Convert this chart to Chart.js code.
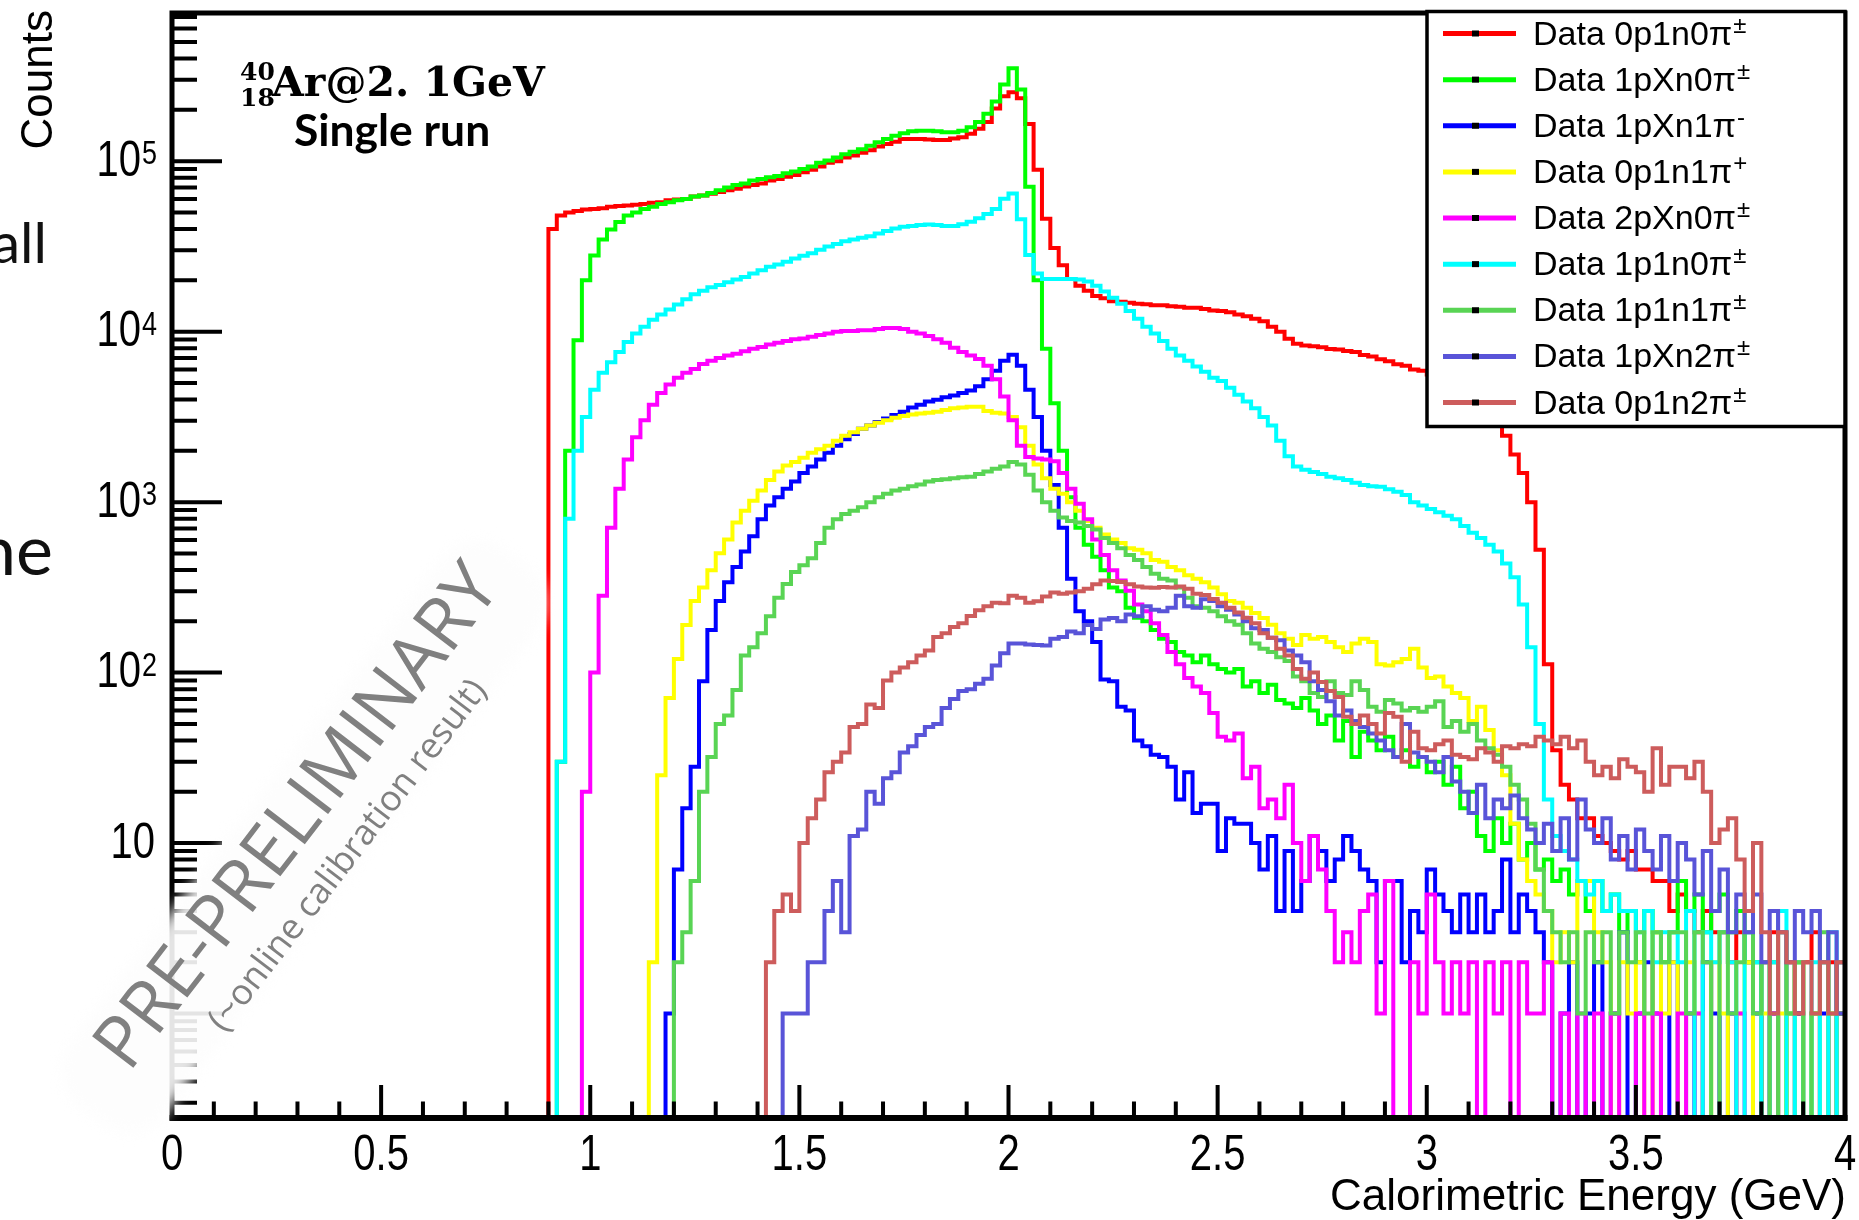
<!DOCTYPE html>
<html>
<head>
<meta charset="utf-8">
<title>Calorimetric Energy</title>
<script src="https://cdn.jsdelivr.net/npm/chart.js@4.4.1/dist/chart.umd.min.js"></script>
<style>
  html, body { margin: 0; padding: 0; background: #ffffff; }
  #wrap { position: relative; width: 1859px; height: 1220px; }
  canvas { display: block; }
</style>
</head>
<body>
<div id="wrap"><canvas id="chart" width="1859" height="1220"></canvas></div>
<script>
// ---- histogram binning and axis ranges ----
const BIN_WIDTH = 0.02;          // GeV per bin
const X_MIN = 0, X_MAX = 4;      // GeV
const Y_MIN = 0.244, Y_MAX = 7.4e5;

// ---- series ----
const seriesLabels = [
  'Data 0p1n0π±', 'Data 1pXn0π±', 'Data 1pXn1π-', 'Data 0p1n1π+', 'Data 2pXn0π±',
  'Data 1p1n0π±', 'Data 1p1n1π±', 'Data 1pXn2π±', 'Data 0p1n2π±'
];
const legendBase = [
  'Data 0p1n0π', 'Data 1pXn0π', 'Data 1pXn1π', 'Data 0p1n1π', 'Data 2pXn0π',
  'Data 1p1n0π', 'Data 1p1n1π', 'Data 1pXn2π', 'Data 0p1n2π'
];
const legendSup = ['±', '±', '-', '+', '±', '±', '±', '±', '±'];
const seriesColors = [
  '#ff0000', '#00ff00', '#0000ff', '#ffff00', '#ff00ff',
  '#00ffff', '#59d454', '#5954d8', '#cd5c5c'
];
// lower edge (GeV) of the first filled bin of each series
const seriesStarts = [0.90, 0.92, 1.18, 1.14, 0.98, 0.92, 1.20, 1.46, 1.42];

// counts per 0.02 GeV bin, ten bins per row
const counts0p1n0pi = [
  40000, 48000, 50000, 51000, 52000, 52500, 53000, 54000, 54500, 55000,
  55500, 56000, 57000, 57500, 59000, 59500, 60000, 62000, 63000, 64500,
  66000, 67500, 69000, 71000, 72500, 74000, 77000, 78500, 81000, 83000,
  86000, 89000, 93000, 98000, 100000, 105000, 108000, 112000, 116000, 122000,
  126000, 130000, 135000, 135000, 135000, 134000, 133000, 133000, 136000, 138000,
  145000, 155000, 170000, 204000, 240000, 254000, 234000, 165000, 89000, 46000,
  31000, 24500, 20400, 18600, 17400, 16200, 15700, 15100, 15000, 14800,
  14600, 14500, 14300, 14300, 14100, 14000, 13800, 13800, 13600, 13300,
  13200, 13000, 12600, 12300, 11900, 11500, 10700, 10000, 9100, 8500,
  8300, 8200, 8100, 7900, 7850, 7700, 7600, 7300, 7150, 6900,
  6700, 6450, 6300, 6000, 5900, 5600, 5500, 5250, 4900, 4570,
  4170, 3800, 3400, 2950, 2450, 1900, 1480, 1000, 525, 112,
  35, 22, 18, 14, 14, 11, 10, 9, 8, 9,
  7, 7, 6, 6, 4, 5, 4, 3, 4, 3,
  3, 2, 3, 2, 0, 2, 3, 0, 2, 1,
  2, 3, 0, 2, 1
];
const counts1pXn0pi = [
  30, 2000, 8900, 20000, 28000, 34700, 39800, 44000, 48000, 50000,
  52500, 54000, 56000, 57500, 59000, 60000, 62000, 63000, 65000, 67500,
  70000, 72500, 74000, 77000, 78500, 80500, 82000, 85000, 87000, 90000,
  93000, 98000, 101000, 105000, 110000, 113500, 117500, 123000, 129000, 135000,
  141000, 146000, 150000, 151000, 151000, 150000, 148000, 148000, 151000, 158000,
  170000, 190000, 224000, 282000, 351000, 263000, 70800, 20000, 7940, 3800,
  2000, 1070, 708, 562, 479, 398, 316, 300, 240, 210,
  200, 178, 158, 151, 132, 126, 115, 126, 112, 105,
  100, 105, 83, 89, 76, 85, 69, 66, 62, 71,
  60, 50, 56, 40, 52, 32, 45, 40, 35, 42,
  32, 35, 28, 32, 26, 30, 22, 28, 16, 20,
  11, 9, 14, 10, 13, 8, 10, 7, 8, 6,
  7, 5, 6, 4, 6, 4, 5, 3, 4, 2,
  4, 3, 2, 3, 6, 4, 5, 3, 4, 5,
  3, 4, 2, 2, 0, 2, 0, 1, 2, 0,
  1, 2, 0, 1
];
const counts1pXn1piMinus = [
  1, 7, 16, 28, 89, 178, 263, 339, 417, 513,
  631, 794, 955, 1070, 1200, 1320, 1480, 1620, 1780, 1950,
  2140, 2340, 2510, 2690, 2820, 2950, 3090, 3240, 3390, 3590,
  3720, 3890, 3980, 4120, 4220, 4370, 4520, 4790, 5250, 5890,
  6760, 7330, 6310, 4570, 3160, 2000, 1260, 708, 355, 229,
  200, 151, 91, 89, 63, 60, 40, 37, 33, 32,
  28, 18, 26, 15, 17, 17, 9, 14, 13, 13,
  10, 7, 11, 4, 9, 4, 6, 11, 9, 6,
  8, 11, 9, 7, 6, 2, 6, 6, 2, 4,
  3, 7, 5, 4, 3, 5, 3, 5, 3, 4,
  8, 3, 5, 4, 3, 2, 0, 1, 2, 0,
  1, 2, 0, 1, 3, 0, 1, 2, 1, 0,
  2, 0, 1, 0, 2, 1, 0, 1, 0, 0,
  1, 0, 1, 0, 0, 1, 0, 0, 1, 0,
  2
];
const counts0p1n1piPlus = [
  2, 25, 71, 120, 190, 263, 316, 398, 501, 603,
  759, 891, 1020, 1170, 1350, 1510, 1640, 1720, 1820, 1950,
  2040, 2140, 2290, 2450, 2570, 2690, 2820, 2920, 3020, 3130,
  3200, 3270, 3310, 3350, 3390, 3470, 3550, 3590, 3630, 3630,
  3430, 3350, 3310, 3160, 2750, 2140, 1660, 1380, 1200, 1120,
  1000, 891, 776, 708, 646, 603, 575, 537, 525, 501,
  457, 447, 417, 398, 372, 355, 339, 316, 288, 263,
  257, 240, 224, 209, 191, 170, 158, 145, 166, 158,
  162, 151, 141, 132, 148, 158, 151, 112, 110, 115,
  120, 138, 107, 93, 95, 83, 76, 71, 52, 63,
  46, 35, 25, 13, 8, 6, 5, 4, 2, 3,
  2, 6, 6, 3, 2, 0, 2, 1, 2, 0,
  3, 1, 2, 0, 2, 1, 0, 2, 1, 0,
  1, 2, 0, 1, 0, 1, 0, 2, 0, 1,
  0, 1, 0
];
const counts2pXn0pi = [
  20, 100, 282, 708, 1200, 1780, 2400, 3020, 3720, 4370,
  4900, 5370, 5750, 6030, 6460, 6760, 7000, 7240, 7410, 7670,
  7940, 8130, 8410, 8610, 8810, 9020, 9120, 9330, 9550, 9770,
  10000, 10100, 10100, 10200, 10200, 10350, 10500, 10500, 10350, 10000,
  9770, 9440, 9020, 8610, 8040, 7590, 7240, 6920, 6310, 5250,
  4170, 3020, 2140, 1840, 1800, 1780, 1740, 1480, 1200, 977,
  794, 603, 490, 398, 347, 302, 251, 229, 195, 166,
  132, 112, 93, 83, 76, 58, 42, 40, 44, 24,
  28, 16, 18, 14, 22, 10, 6, 11, 7, 4,
  2, 3, 2, 4, 5, 1, 6, 0, 0, 2,
  1, 5, 2, 1, 2, 1, 2, 0, 2, 1,
  2, 0, 2, 1, 1, 2, 0, 1, 0, 1,
  0, 1, 0, 1, 0, 0, 1, 0, 1, 0,
  0, 1, 0, 1, 0, 0, 0, 0, 1, 0,
  0, 0, 1
];
const counts1p1n0pi = [
  30, 800, 2000, 3160, 4570, 5750, 6610, 7590, 8710, 9770,
  10700, 11750, 12600, 13500, 14450, 15500, 16600, 17400, 18200, 18800,
  19500, 20200, 20900, 21900, 22900, 24000, 24800, 25700, 26900, 27900,
  28800, 30200, 31600, 32700, 33900, 34700, 35500, 36300, 37600, 38900,
  40300, 41200, 41700, 42200, 42500, 42200, 41700, 41700, 42700, 44200,
  46200, 49000, 52500, 60300, 64600, 45700, 28200, 21900, 20400, 20400,
  20400, 20400, 20200, 19700, 18600, 17200, 15800, 14600, 13200, 11900,
  10700, 9770, 8810, 7940, 7240, 6760, 6240, 5820, 5370, 5130,
  4680, 4270, 3890, 3550, 3160, 2820, 2290, 1860, 1620, 1550,
  1500, 1460, 1410, 1380, 1350, 1300, 1260, 1240, 1230, 1190,
  1150, 1100, 1000, 955, 912, 871, 832, 794, 724, 661,
  617, 562, 513, 437, 363, 251, 141, 50, 18, 11,
  9, 8, 6, 5, 6, 4, 5, 4, 4, 3,
  4, 2, 3, 3, 2, 4, 0, 3, 2, 3,
  2, 0, 3, 2, 0, 2, 4, 0, 2, 0,
  2, 0, 3, 0
];
const counts1p1n1pi = [
  2, 3, 6, 20, 32, 50, 56, 79, 126, 141,
  170, 214, 275, 331, 389, 427, 468, 575, 708, 794,
  851, 891, 933, 1000, 1070, 1120, 1170, 1200, 1240, 1270,
  1320, 1350, 1360, 1380, 1400, 1410, 1460, 1510, 1570, 1620,
  1720, 1660, 1450, 1170, 1000, 891, 813, 776, 759, 724,
  692, 617, 575, 537, 490, 457, 417, 380, 355, 347,
  316, 275, 245, 240, 229, 214, 200, 191, 170, 148,
  138, 132, 123, 117, 95, 89, 76, 72, 89, 76,
  74, 89, 79, 63, 59, 69, 66, 60, 62, 59,
  63, 68, 48, 52, 45, 50, 40, 36, 33, 28,
  22, 18, 13, 7, 4, 3, 2, 3, 1, 3,
  2, 3, 1, 3, 2, 3, 1, 3, 2, 3,
  3, 1, 3, 2, 0, 3, 1, 2, 3, 1,
  2, 0, 3, 1, 2, 0, 1, 3, 1, 2
];
const counts1pXn2pi = [
  1, 1, 1, 2, 2, 4, 6, 3, 11, 12,
  20, 17, 24, 26, 34, 37, 43, 48, 50, 62,
  70, 78, 80, 86, 92, 110, 130, 148, 148, 146,
  145, 144, 158, 162, 174, 170, 190, 180, 205, 209,
  200, 219, 214, 245, 234, 229, 240, 282, 245, 240,
  269, 263, 245, 234, 219, 200, 182, 178, 160, 155,
  135, 126, 115, 89, 79, 68, 56, 60, 52, 48,
  44, 40, 35, 32, 50, 34, 32, 30, 26, 32,
  23, 20, 15, 22, 14, 18, 16, 19, 14, 12,
  10, 13, 9, 14, 8, 18, 12, 10, 14, 8,
  11, 7, 12, 9, 7, 11, 6, 10, 8, 5,
  9, 4, 7, 3, 5, 3, 5, 2, 4, 3,
  2, 4, 3, 4, 2, 3, 1
];
const counts0p1n2pi = [
  2, 4, 5, 4, 10, 14, 18, 26, 30, 34,
  48, 50, 65, 62, 90, 100, 107, 115, 126, 135,
  162, 170, 185, 195, 215, 232, 245, 257, 255, 282,
  275, 257, 262, 280, 295, 290, 295, 300, 310, 330,
  347, 345, 340, 330, 320, 316, 315, 318, 316, 320,
  310, 290, 285, 270, 257, 240, 225, 210, 195, 170,
  160, 138, 126, 105, 92, 100, 88, 78, 72, 55,
  50, 56, 50, 44, 58, 55, 30, 45, 36, 35,
  38, 40, 33, 32, 31, 36, 34, 30, 37, 36,
  38, 37, 42, 40, 38, 42, 36, 40, 30, 25,
  28, 24, 31, 28, 26, 20, 36, 22, 28, 28,
  24, 30, 20, 10, 12, 14, 8, 4, 10, 3,
  1, 3, 2, 1, 2, 1, 2, 1, 2
];
const seriesCounts = [
  counts0p1n0pi, counts1pXn0pi, counts1pXn1piMinus, counts0p1n1piPlus, counts2pXn0pi,
  counts1p1n0pi, counts1p1n1pi, counts1pXn2pi, counts0p1n2pi
];

// ---- axis ticks ----
const xMajorTicks = [0, 0.5, 1, 1.5, 2, 2.5, 3, 3.5, 4];
const xTickLabels = ['0', '0.5', '1', '1.5', '2', '2.5', '3', '3.5', '4'];
const xMinorStep = 0.1;
const yMajorTicks = [1, 10, 100, 1000, 10000, 100000];
const yTickBase = ['', '10', '10', '10', '10', '10'];
const yTickExp  = ['', '', '2', '3', '4', '5'];

// empty bins sit below the frame on the log axis, so the outline drops to the bottom edge
const EMPTY_LEVEL = 0.05;
function histogramPoints(start, counts) {
  const pts = [{ x: start, y: EMPTY_LEVEL }];
  counts.forEach((c, i) => {
    pts.push({ x: +(start + i * BIN_WIDTH).toFixed(3), y: c > 0 ? c : EMPTY_LEVEL });
  });
  pts.push({ x: +(start + counts.length * BIN_WIDTH).toFixed(3), y: EMPTY_LEVEL });
  return pts;
}

const datasets = seriesCounts.map((counts, i) => ({
  label: seriesLabels[i],
  data: histogramPoints(seriesStarts[i], counts),
  borderColor: seriesColors[i],
  backgroundColor: seriesColors[i],
  borderWidth: 4,
  pointRadius: 0,
  pointHoverRadius: 0,
  stepped: 'before',
  tension: 0,
  fill: false,
  clip: 0,
  borderJoinStyle: 'miter',
  order: seriesCounts.length - i   // later series are painted on top
}));

const SANS = '"Liberation Sans", Arial, sans-serif';
const TICK_STRETCH = 1.25;   // tick numbers are drawn taller than wide

function stretchedText(ctx, text, x, y, sy) {
  ctx.save();
  ctx.translate(x, y);
  ctx.scale(1, sy);
  ctx.fillText(text, 0, 0);
  ctx.restore();
}

function drawFrameAndAxes(chart) {
  const ctx = chart.ctx;
  const xs = chart.scales.x, ys = chart.scales.y;
  const a = chart.chartArea;
  ctx.save();
  ctx.strokeStyle = '#000';
  ctx.lineCap = 'butt';

  // x ticks (inward)
  ctx.lineWidth = 4;
  ctx.beginPath();
  const nMinor = Math.round((X_MAX - X_MIN) / xMinorStep);
  for (let i = 0; i <= nMinor; i++) {
    const v = X_MIN + i * xMinorStep;
    const px = xs.getPixelForValue(v);
    const major = xMajorTicks.some(t => Math.abs(t - v) < 1e-6);
    ctx.moveTo(px, a.bottom);
    ctx.lineTo(px, a.bottom - (major ? 33 : 16.5));
  }
  // y ticks (inward)
  for (let d = -1; d <= 5; d++) {
    for (let m = 1; m <= 9; m++) {
      const v = m * Math.pow(10, d);
      if (v < Y_MIN || v > Y_MAX) continue;
      const py = ys.getPixelForValue(v);
      const major = (m === 1);
      ctx.moveTo(a.left, py);
      ctx.lineTo(a.left + (major ? 50 : 25), py);
    }
  }
  ctx.stroke();

  // frame
  ctx.lineWidth = 5;
  ctx.strokeRect(a.left, a.top, a.right - a.left, a.bottom - a.top);
  ctx.lineWidth = 6;
  ctx.beginPath();
  ctx.moveTo(a.left - 2.5, a.bottom);
  ctx.lineTo(a.right + 2.5, a.bottom);
  ctx.stroke();

  // x tick labels
  ctx.fillStyle = '#000';
  ctx.font = '40px ' + SANS;
  ctx.textAlign = 'center';
  ctx.textBaseline = 'top';
  xMajorTicks.forEach((v, i) => {
    stretchedText(ctx, xTickLabels[i], xs.getPixelForValue(v), a.bottom + 13, TICK_STRETCH);
  });

  // y tick labels with exponents
  const rightEdge = a.left - 15;
  yMajorTicks.forEach((v, i) => {
    if (!yTickBase[i]) return;
    const py = ys.getPixelForValue(v);
    let supW = 0;
    if (yTickExp[i]) {
      ctx.font = '27px ' + SANS;
      supW = ctx.measureText(yTickExp[i]).width;
      ctx.textAlign = 'right';
      ctx.textBaseline = 'alphabetic';
      stretchedText(ctx, yTickExp[i], rightEdge, py + 3, TICK_STRETCH);
    }
    ctx.font = '40px ' + SANS;
    ctx.textAlign = 'right';
    ctx.textBaseline = 'middle';
    stretchedText(ctx, yTickBase[i], rightEdge - supW - (supW ? 1 : 2), py + 1, TICK_STRETCH);
  });

  // axis titles
  ctx.font = '44px ' + SANS;
  ctx.textAlign = 'right';
  ctx.textBaseline = 'alphabetic';
  ctx.fillText('Calorimetric Energy (GeV)', a.right + 1, 1210);
  ctx.save();
  ctx.translate(52, 10);
  ctx.rotate(-Math.PI / 2);
  ctx.fillText('Counts', 0, 0);
  ctx.restore();

  ctx.restore();
}

function drawLegend(chart) {
  const ctx = chart.ctx;
  const box = { left: 1427, top: 11.5, right: 1845, bottom: 426.5 };
  ctx.save();
  ctx.fillStyle = '#ffffff';
  ctx.fillRect(box.left, box.top, box.right - box.left, box.bottom - box.top);
  ctx.strokeStyle = '#000';
  ctx.lineWidth = 3.5;
  ctx.strokeRect(box.left, box.top, box.right - box.left, box.bottom - box.top);

  const rowStep = (box.bottom - box.top - 46) / (legendBase.length - 1);
  legendBase.forEach((text, i) => {
    const cy = box.top + 22 + i * rowStep;
    ctx.strokeStyle = seriesColors[i];
    ctx.lineWidth = 5;
    ctx.beginPath();
    ctx.moveTo(1443, cy);
    ctx.lineTo(1516, cy);
    ctx.stroke();
    ctx.fillStyle = '#000';
    ctx.fillRect(1472, cy - 3, 7, 6);

    ctx.font = '34px ' + SANS;
    ctx.textAlign = 'left';
    ctx.textBaseline = 'alphabetic';
    ctx.fillText(text, 1533, cy + 11);
    const w = ctx.measureText(text).width;
    ctx.font = '24px ' + SANS;
    ctx.fillText(legendSup[i], 1533 + w + 1, cy - 1);
  });
  ctx.restore();
}

function drawAnnotations(chart) {
  const ctx = chart.ctx;
  ctx.save();
  ctx.fillStyle = '#000';
  ctx.textBaseline = 'alphabetic';

  // beam label with nuclear mass / charge numbers
  ctx.textAlign = 'left';
  ctx.font = 'bold 25px "DejaVu Serif", serif';
  ctx.fillText('40', 240, 80);
  ctx.fillText('18', 240, 106);
  ctx.font = 'bold 41px "DejaVu Serif", serif';
  ctx.fillText('Ar@2. 1GeV', 272, 96);

  ctx.font = 'bold 44px Lato, "Open Sans", sans-serif';
  const w = ctx.measureText('Single run').width;
  const s = 196 / w;
  ctx.font = 'bold ' + (44 * s).toFixed(1) + 'px Lato, "Open Sans", sans-serif';
  ctx.fillText('Single run', 294, 146);

  // slide text cut by the left border
  ctx.fillStyle = '#111';
  ctx.textAlign = 'right';
  ctx.font = '57px Lato, "Open Sans", sans-serif';
  ctx.fillText('all', 47, 263);
  ctx.font = '70px Lato, "Open Sans", sans-serif';
  ctx.fillText('ne', 53, 575);
  ctx.restore();
}

function drawWatermark(chart) {
  const ctx = chart.ctx;
  ctx.save();
  ctx.translate(299, 818);
  ctx.rotate(-52.5 * Math.PI / 180);

  // soft pale band behind the stamp
  ctx.filter = 'blur(7px)';
  ctx.fillStyle = 'rgba(253,253,253,0.9)';
  const bx = -362, by = -44, bw = 700, bh = 118, r = 45;
  ctx.beginPath();
  ctx.moveTo(bx + r, by);
  ctx.lineTo(bx + bw - r, by);
  ctx.arcTo(bx + bw, by, bx + bw, by + r, r);
  ctx.lineTo(bx + bw, by + bh - r);
  ctx.arcTo(bx + bw, by + bh, bx + bw - r, by + bh, r);
  ctx.lineTo(bx + r, by + bh);
  ctx.arcTo(bx, by + bh, bx, by + bh - r, r);
  ctx.lineTo(bx, by + r);
  ctx.arcTo(bx, by, bx + r, by, r);
  ctx.closePath();
  ctx.fill();
  ctx.filter = 'none';

  ctx.fillStyle = '#808080';
  ctx.textAlign = 'center';
  ctx.textBaseline = 'middle';
  ctx.font = '100px "Open Sans", sans-serif';
  let mw = ctx.measureText('PRE-PRELIMINARY').width;
  ctx.font = (100 * 612 / mw).toFixed(1) + 'px "Open Sans", sans-serif';
  ctx.fillText('PRE-PRELIMINARY', 0, 0);
  ctx.font = '100px "Open Sans", sans-serif';
  mw = ctx.measureText('(~online calibration result)').width;
  ctx.font = (100 * 432 / mw).toFixed(1) + 'px "Open Sans", sans-serif';
  ctx.fillText('(~online calibration result)', 0, 62);
  ctx.restore();
}

const decorations = {
  id: 'decorations',
  afterDraw(chart) {
    drawFrameAndAxes(chart);
    drawLegend(chart);
    drawAnnotations(chart);
    drawWatermark(chart);
  }
};

new Chart(document.getElementById('chart'), {
  type: 'line',
  data: { datasets },
  options: {
    responsive: false,
    animation: false,
    events: [],
    layout: { padding: { left: 172, top: 13, right: 14, bottom: 102 } },
    plugins: {
      legend: { display: false },
      tooltip: { enabled: false },
      title: { display: false }
    },
    scales: {
      x: { type: 'linear', min: X_MIN, max: X_MAX, display: false },
      y: { type: 'logarithmic', min: Y_MIN, max: Y_MAX, display: false }
    }
  },
  plugins: [decorations]
});
</script>
</body>
</html>
